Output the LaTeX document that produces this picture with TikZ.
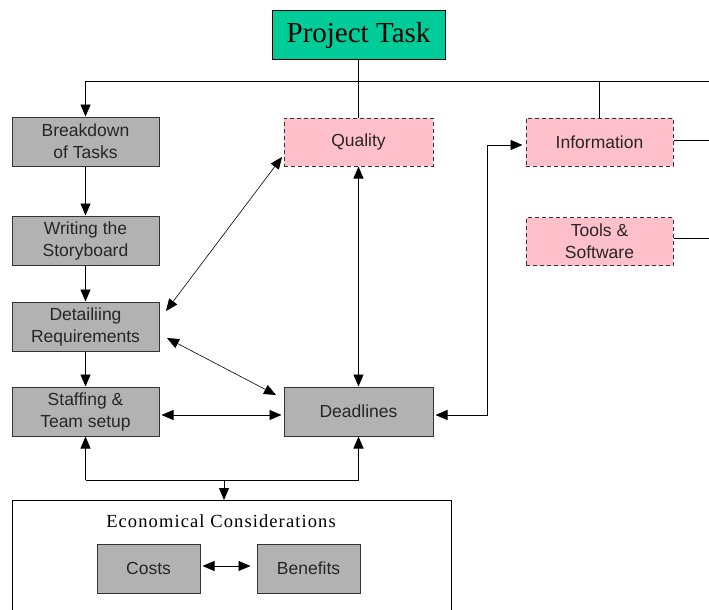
\documentclass[tikz,border=0pt]{standalone}
\usepackage{fontspec}
\setmainfont{Liberation Serif}
\setsansfont{Liberation Sans}
\usetikzlibrary{arrows.meta}
\definecolor{teal1}{HTML}{00CC99}
\definecolor{gbox}{HTML}{B2B2B2}
\definecolor{gline}{HTML}{333333}
\definecolor{pinkf}{HTML}{FFC0CB}
\begin{document}
\begin{tikzpicture}[x=1pt,y=-1pt,
  tip/.tip={Triangle[length=12pt,width=10pt]},
  graybox/.style={draw=gline,line width=1pt,fill=gbox,minimum height=49pt,inner sep=2pt,align=center,font=\sffamily\fontsize{17.5}{22}\selectfont,text=black!85},
  pinkbox/.style={draw=gline,line width=1pt,dashed,dash pattern=on 4pt off 3pt,fill=pinkf,minimum height=48pt,inner sep=2pt,align=center,font=\sffamily\fontsize{17.5}{22}\selectfont,text=black!85},
  conn/.style={line width=0.9pt,black},
  thin/.style={line width=0.6pt,black}]
\useasboundingbox (0,0) rectangle (709,610);
% nodes
\node[draw=black,line width=1pt,fill=teal1,minimum width=173pt,minimum height=49pt,font=\fontsize{29}{32}\selectfont] (pt) at (358.5,35.5) {Project Task};
\node[graybox,minimum width=147pt] (bd) at (85.5,141.5) {Breakdown\\of Tasks};
\node[graybox,minimum width=147pt] (ws) at (85.5,240.5) {Writing the\\Storyboard};
\node[graybox,minimum width=147pt] (dr) at (85.5,326.5) {Detailiing\\Requirements};
\node[graybox,minimum width=147pt] (st) at (85.5,411.5) {Staffing \&\\Team setup};
\node[graybox,minimum width=149pt] (dl) at (358.5,411.5) {Deadlines};
\node[pinkbox,minimum width=149pt] (q) at (358.5,142) {Quality};
\node[pinkbox,minimum width=147pt] (inf) at (599.5,142) {Information};
\node[pinkbox,minimum width=147pt] (tl) at (599.5,241.5) {Tools \&\\Software};
% economical box
\draw[line width=0.9pt,black] (12,612) -- (12,500) -- (451,500) -- (451,612);
\coordinate (ectop) at (224,500);
\node[font=\fontsize{18.5}{20}\selectfont\addfontfeatures{LetterSpace=6}] (ect) at (221,521) {Economical Considerations};
\node[graybox,minimum width=103pt] (co) at (148.5,568.5) {Costs};
\node[graybox,minimum width=103pt] (be) at (308.5,568.5) {Benefits};
% bus
\coordinate (bus) at (358.5,81);
\coordinate (busr) at (712,81);
\draw[conn] (pt.south) -- (q.north);
\draw[conn,-tip] (busr) -| (bd.north);
\draw[conn] (inf.north) -- (inf.north |- bus);
\coordinate (infr) at (712,140);
\coordinate (tlr) at (712,238);
\draw[conn] (infr -| inf.east) -- (infr);
\draw[conn] (tlr -| tl.east) -- (tlr);
% left chain
\draw[conn,-tip] (bd.south) -- (ws.north);
\draw[conn,-tip] (ws.south) -- (dr.north);
\draw[conn,-tip] (dr.south) -- (st.north);
% quality - deadlines
\draw[conn,tip-tip] (q.south) -- (dl.north);
% diagonals
\coordinate (qd) at (282,157);
\coordinate (dq) at (166,311);
\coordinate (dd1) at (167,338);
\coordinate (dd2) at (276,395);
\draw[thin,tip-tip] (qd) -- (dq);
\draw[thin,tip-tip] (dd1) -- (dd2);
% staffing - deadlines
\coordinate (sd) at (200,415);
\draw[conn,tip-tip,shorten <=2pt,shorten >=2pt] (sd -| st.east) -- (sd -| dl.west);
% deadlines - information
\coordinate (riser) at (487,415);
\coordinate (infin) at (487,145);
\draw[conn,tip-tip,shorten <=2pt,shorten >=3pt] (riser -| dl.east) -- (riser) -- (infin) -- (infin -| inf.west);
% bottom bracket
\coordinate (brk) at (224,480);
\draw[conn,-tip] (st.south |- brk) -- (dl.south |- brk) -- (dl.south);
\draw[conn,-tip] (st.south |- brk) -- (st.south);
\draw[conn,-tip] (brk) -- (ectop);
% costs - benefits
\coordinate (cb) at (220,566);
\draw[conn,tip-tip,shorten <=2pt,shorten >=6pt] (cb -| co.east) -- (cb -| be.west);
\end{tikzpicture}
\end{document}
